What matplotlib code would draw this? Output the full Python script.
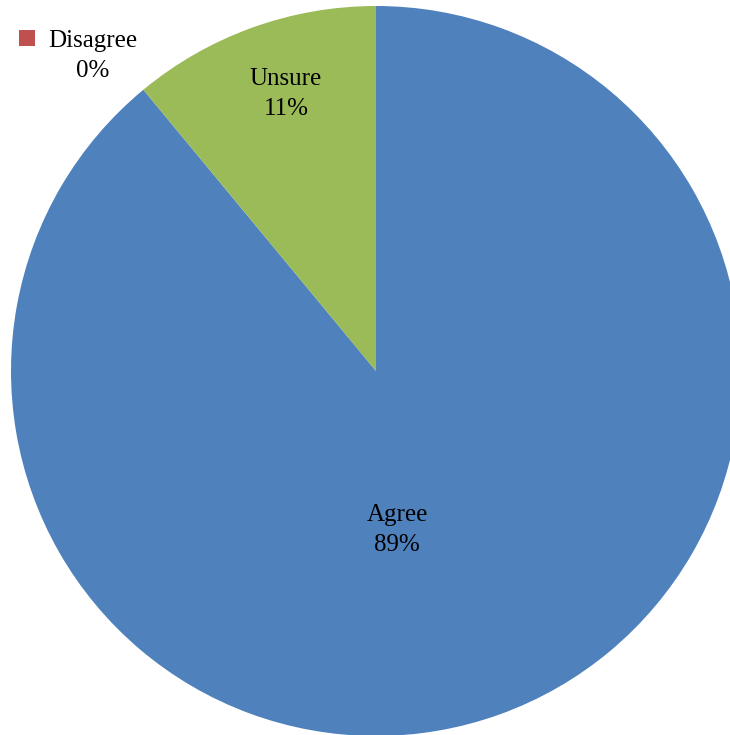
import matplotlib.pyplot as plt

labels = ['Agree', 'Disagree', 'Unsure']
values = [89, 0, 11]
colors = ['#4F81BD', '#C0504D', '#9BBB59']

plt.rcParams['font.family'] = ['Liberation Serif', 'DejaVu Serif']

fig = plt.figure(figsize=(7.30, 7.35), dpi=100)
ax = fig.add_axes([0, 0, 1, 1])

# pie drawn in pixel-like coords, clockwise from 12 o'clock
ax.pie(values, colors=colors, startangle=90, counterclock=False,
       center=(376, 364), radius=365, frame=True,
       wedgeprops=dict(linewidth=0))
ax.set_xlim(0, 730)
ax.set_ylim(0, 735)
ax.set_aspect('equal')
ax.axis('off')

fs = 18
ls = 1.45
ax.text(397, 735 - 530, f'{labels[0]}\n{values[0]}%', ha='center', va='center',
        fontsize=fs, linespacing=ls)
ax.text(286, 735 - 94, f'{labels[2]}\n{values[2]}%', ha='center', va='center',
        fontsize=fs, linespacing=ls)
ax.text(93, 735 - 56, f'{labels[1]}\n{values[1]}%', ha='center', va='center',
        fontsize=fs, linespacing=ls)
ax.scatter([27], [735 - 38], marker='s', s=130, color=colors[1], linewidths=0)

fig.savefig('out.png', dpi=100)
